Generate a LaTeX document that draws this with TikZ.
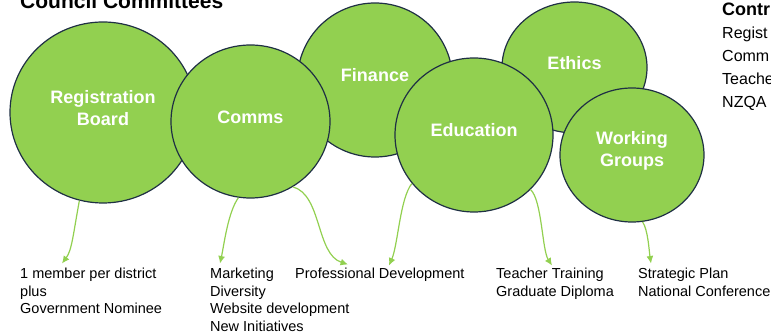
\documentclass[tikz,border=0pt]{standalone}
\usepackage{fontspec}
\setmainfont{Liberation Sans}
\usetikzlibrary{shapes.geometric,calc,arrows.meta}

\definecolor{cgreen}{HTML}{92D050}
\definecolor{cnavy}{HTML}{1F3044}

\tikzset{
  committee/.style={ellipse, draw=cnavy, fill=cgreen, line width=1.2pt, inner sep=0pt},
  committeename/.style={text=white, font=\bfseries\fontsize{18}{22}\selectfont, align=center, inner sep=0pt},
  duty/.style={anchor=north west, inner sep=0pt, align=left, font=\fontsize{14.5}{17.8}\selectfont},
  feed/.style={draw=cgreen, line width=1.2pt, -{Latex[length=7.5pt,width=7pt]}},
}

\begin{document}
\begin{tikzpicture}[x=1pt,y=-1pt]
\useasboundingbox (0,0) rectangle (771,336);

% committees, back to front
\foreach \n/\x/\y/\w/\h/\t in {rb/103/112.5/186/181/{Registration\\Board},fin/375/80/155/154/Finance,com/250.5/121.5/159/153/Comms,eth/574.5/67.5/145/131/Ethics,edu/474/135/158/154/Education,wg/632/155/144/134/{Working\\Groups}}
{
    \node[committee, minimum width=\w pt, minimum height=\h pt] (\n) at (\x,\y) {};
    \node[committeename] (\n-name) at ([yshift=4.5pt]\n.center) {\t};
}

\node[anchor=base west, inner sep=0pt, font=\bfseries\fontsize{21}{25}\selectfont] (title) at (20,9) {Council Committees};

% right hand column
\node[anchor=base west, inner sep=0pt, font=\bfseries\fontsize{18}{22}\selectfont] (contr) at (722,16) {Contr};
\foreach \i/\y/\t in {1/39/Regist,2/62/Comm,3/85/Teache,4/108/NZQA}
    \node[anchor=base west, inner sep=0pt, font=\fontsize{16}{20}\selectfont] (contr\i) at (722,\y) {\t};

% duties
\node[duty] (rbd) at (20,267.5) {1 member per district\\plus\\Government Nominee};
\node[duty] (comd) at (210,267.5) {Marketing\\Diversity\\Website development\\New Initiatives};
\node[duty] (pd) at (295,267.5) {Professional Development};
\node[duty] (edud) at (496,267.5) {Teacher Training\\Graduate Diploma};
\node[duty] (wgd) at (638,267.5) {Strategic Plan\\National Conference};

\draw[feed] (rb.-105) .. controls (73,235) and (72,250) .. ([shift={(42,-4)}]rbd.north west);
\draw[feed] (com.-99) .. controls (228,212) and (224,245) .. ([shift={(10,-4)}]comd.north west);
\draw[feed] (com.-57) .. controls (322,195) and (316,254) .. ([shift={(53,-3)}]pd.north west);
\draw[feed] (edu.-142) .. controls (400,198) and (398,245) .. ([shift={(94,-2)}]pd.north west);
\draw[feed] (edu.-44) .. controls (542,200) and (542,250) .. ([shift={(56,-2)}]edud.north west);
\draw[feed] (wg.-81) .. controls (648,230) and (649,250) .. ([shift={(13,-4)}]wgd.north west);
\end{tikzpicture}
\end{document}
